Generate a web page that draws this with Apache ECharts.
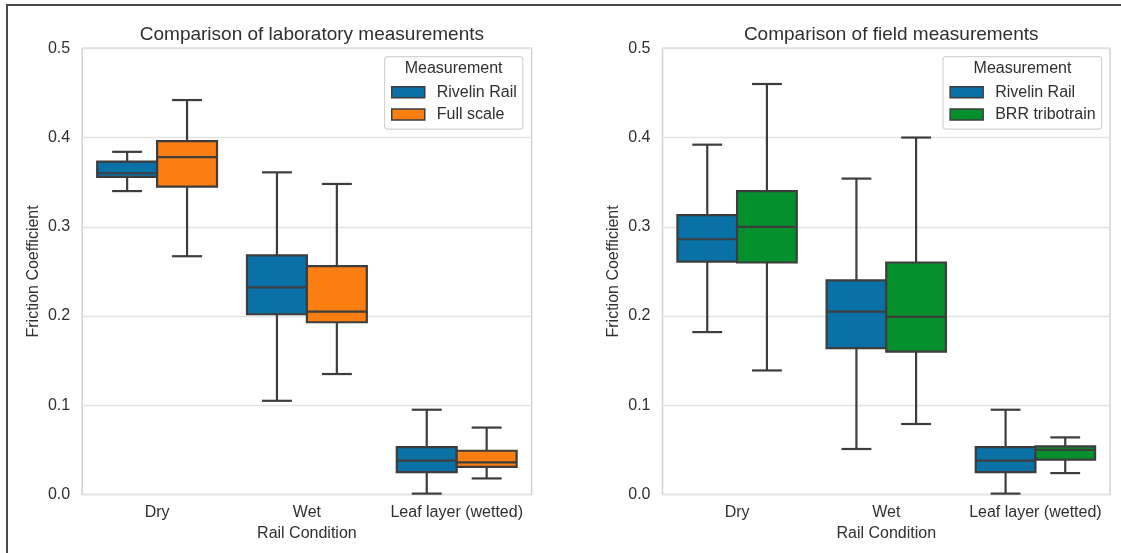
<!DOCTYPE html>
<html>
<head>
<meta charset="utf-8">
<script src="https://cdn.jsdelivr.net/npm/echarts@6/dist/echarts.min.js"></script>
<style>
  html, body { margin: 0; padding: 0; background: #fff; }
  #wrap { position: relative; width: 1121px; height: 553px; overflow: hidden; }
  #chart { position: absolute; left: 0; top: 0; width: 1121px; height: 553px; }
  #frame { position: absolute; left: 6px; top: 4px; width: 1200px; height: 700px;
           border-top: 2px solid #4a4a4a; border-left: 2px solid #4a4a4a; pointer-events: none; }
</style>
</head>
<body>
<div id="wrap"><div id="chart"></div><div id="frame"></div></div>
<script>
// Categories (rail condition)
const categories = ['Dry', 'Wet', 'Leaf layer (wetted)'];
// Each row: [low whisker, Q1, median, Q3, high whisker]
const labRivelin   = [[0.340, 0.356, 0.360, 0.373, 0.384],
                      [0.105, 0.202, 0.232, 0.268, 0.361],
                      [0.001, 0.025, 0.038, 0.053, 0.095]];
const labFullScale = [[0.267, 0.345, 0.378, 0.396, 0.442],
                      [0.135, 0.193, 0.205, 0.256, 0.348],
                      [0.018, 0.031, 0.036, 0.049, 0.075]];
const fieldRivelin = [[0.182, 0.261, 0.286, 0.313, 0.392],
                      [0.051, 0.164, 0.205, 0.240, 0.354],
                      [0.001, 0.025, 0.038, 0.053, 0.095]];
const fieldBRR     = [[0.139, 0.260, 0.300, 0.340, 0.460],
                      [0.079, 0.160, 0.199, 0.260, 0.400],
                      [0.024, 0.039, 0.050, 0.054, 0.064]];
const yTicks = [0.0, 0.1, 0.2, 0.3, 0.4, 0.5];

const BLUE = '#0a71a6', ORANGE = '#fb7e12', GREEN = '#05902e';
const EDGE = '#3d3d3d';
const FONT = '"Liberation Sans", Arial, sans-serif';
const TXT = '#2f2f2f';

function toData(rows) { return rows.map((r, i) => [i].concat(r)); }

function boxRenderer(sign, fill) {
  return function (params, api) {
    const cat = api.value(0);
    const bw = api.size([1, 0])[0];
    const boxW = bw * 0.4;
    const cx = api.coord([cat, 0])[0] + sign * bw * 0.2;
    const y = i => api.coord([cat, api.value(i)])[1];
    const lo = y(1), q1 = y(2), md = y(3), q3 = y(4), hi = y(5);
    const st = { stroke: EDGE, lineWidth: 2.2 };
    const cap = boxW / 4;
    return {
      type: 'group',
      children: [
        { type: 'line', shape: { x1: cx, y1: hi, x2: cx, y2: q3 }, style: st },
        { type: 'line', shape: { x1: cx, y1: q1, x2: cx, y2: lo }, style: st },
        { type: 'line', shape: { x1: cx - cap, y1: hi, x2: cx + cap, y2: hi }, style: st },
        { type: 'line', shape: { x1: cx - cap, y1: lo, x2: cx + cap, y2: lo }, style: st },
        { type: 'rect', shape: { x: cx - boxW / 2, y: q3, width: boxW, height: q1 - q3 },
          style: { fill: fill, stroke: EDGE, lineWidth: 2.2 } },
        { type: 'line', shape: { x1: cx - boxW / 2, y1: md, x2: cx + boxW / 2, y2: md }, style: st }
      ]
    };
  };
}

function series(name, rows, idx, sign, color) {
  return {
    name: name, type: 'custom', xAxisIndex: idx, yAxisIndex: idx,
    color: color,
    itemStyle: { color: color, borderColor: EDGE, borderWidth: 1.5 },
    encode: { x: 0, y: [1, 2, 3, 4, 5] },
    data: toData(rows),
    renderItem: boxRenderer(sign, color)
  };
}

function xAxis(idx) {
  return {
    type: 'category', gridIndex: idx, data: categories,
    axisTick: { show: false }, axisLine: { show: false },
    axisLabel: { fontSize: 16, color: TXT, fontFamily: FONT, margin: 10, interval: 0 },
    name: 'Rail Condition', nameLocation: 'middle', nameGap: 31,
    nameTextStyle: { fontSize: 16, color: TXT, fontFamily: FONT },
    splitLine: { show: false }
  };
}
function yAxis(idx) {
  return {
    type: 'value', gridIndex: idx, min: yTicks[0], max: yTicks[yTicks.length - 1], interval: 0.1,
    axisLine: { show: false }, axisTick: { show: false },
    axisLabel: { fontSize: 16, color: TXT, fontFamily: FONT, margin: 12, formatter: v => v.toFixed(1) },
    splitLine: { show: true, lineStyle: { color: '#e3e3e3', width: 1.3 } },
    name: 'Friction Coefficient', nameLocation: 'middle', nameRotate: 90, nameGap: 41,
    nameTextStyle: { fontSize: 16, color: TXT, fontFamily: FONT }
  };
}
function legend(left, names) {
  return {
    left: left, top: 56.7, orient: 'vertical',
    data: names, icon: 'rect', itemWidth: 33, itemHeight: 11, itemGap: 6.2,
    padding: [27.5, 6, 6.8, 6.4],
    backgroundColor: '#fff', borderColor: '#d4d4d4', borderWidth: 1.2, borderRadius: 3,
    itemStyle: { borderColor: EDGE, borderWidth: 1.5 },
    textStyle: { fontSize: 16, color: TXT, fontFamily: FONT, padding: [0, 0, 0, 7] },
    selectedMode: false
  };
}

const chart = echarts.init(document.getElementById('chart'), null, { renderer: 'canvas' });
chart.setOption({
  backgroundColor: '#fff',
  animation: false,
  title: [
    { text: 'Comparison of laboratory measurements', left: 306.9, top: 20, textAlign: 'center',
      textStyle: { fontSize: 19, fontWeight: 'normal', color: TXT, fontFamily: FONT } },
    { text: 'Comparison of field measurements', left: 886.2, top: 20, textAlign: 'center',
      textStyle: { fontSize: 19, fontWeight: 'normal', color: TXT, fontFamily: FONT } },
    { text: 'Measurement', left: 453.6, top: 61, textAlign: 'center', z: 10, padding: 0,
      textStyle: { fontSize: 16, fontWeight: 'normal', color: TXT, fontFamily: FONT } },
    { text: 'Measurement', left: 1022.5, top: 61, textAlign: 'center', z: 10, padding: 0,
      textStyle: { fontSize: 16, fontWeight: 'normal', color: TXT, fontFamily: FONT } }
  ],
  legend: [
    legend(384.6, ['Rivelin Rail', 'Full scale']),
    legend(943, ['Rivelin Rail ', 'BRR tribotrain'])
  ],
  grid: [
    { left: 82.2, right: 589.4, top: 48.3, bottom: 58.5, show: true, borderColor: '#d2d2d2', borderWidth: 1.5 },
    { left: 662.5, right: 11, top: 48.3, bottom: 58.5, show: true, borderColor: '#d2d2d2', borderWidth: 1.5 }
  ],
  xAxis: [xAxis(0), xAxis(1)],
  yAxis: [yAxis(0), yAxis(1)],
  series: [
    series('Rivelin Rail', labRivelin, 0, -1, BLUE),
    series('Full scale', labFullScale, 0, 1, ORANGE),
    series('Rivelin Rail ', fieldRivelin, 1, -1, BLUE),
    series('BRR tribotrain', fieldBRR, 1, 1, GREEN)
  ]
});
</script>
</body>
</html>
